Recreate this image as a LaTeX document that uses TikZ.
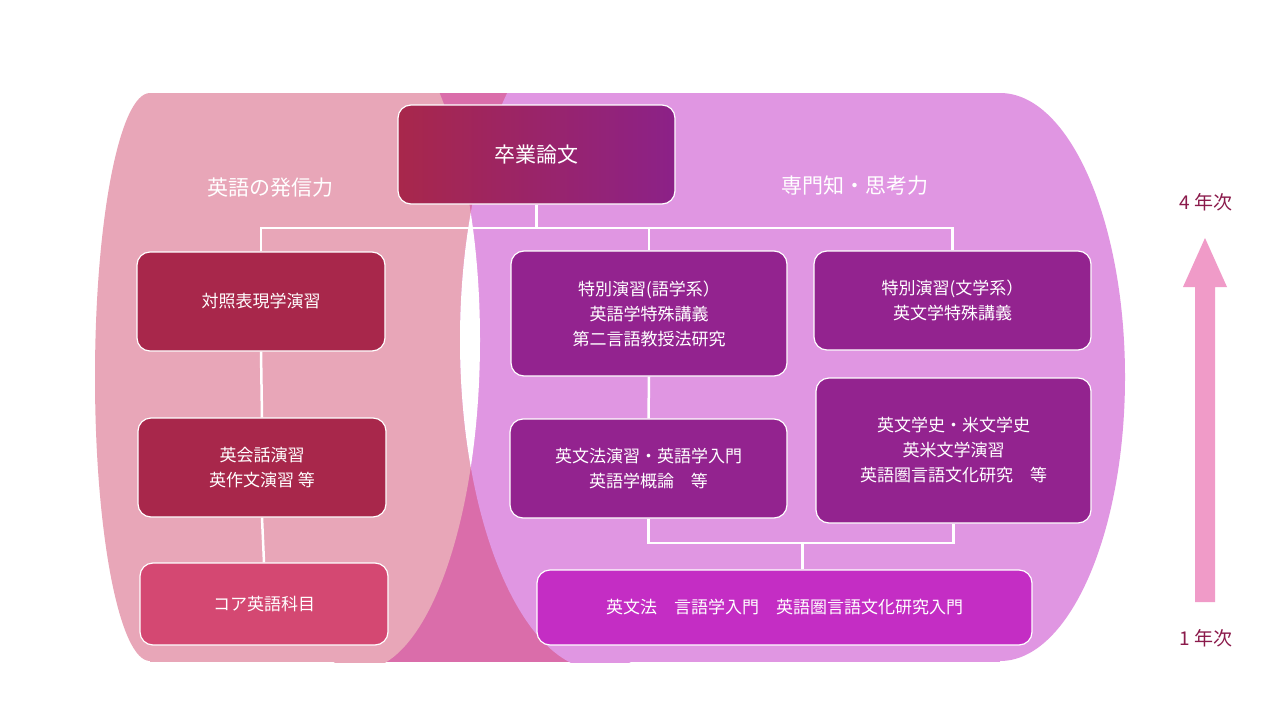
\documentclass[tikz,border=0pt]{standalone}
\usepackage{fontspec}
\setmainfont{Noto Sans CJK JP}
\begin{document}
\begin{tikzpicture}[x=1pt,y=-1pt,
  box/.style={draw=white,line width=1.2pt,rounded corners=13pt,text=white,align=center,font=\fontsize{17}{25}\selectfont,inner sep=0pt},
  conn/.style={draw=white,line width=2.5pt}]
\definecolor{lpink}{HTML}{E8A6B8}
\definecolor{rpurp}{HTML}{E096E2}
\definecolor{back}{HTML}{DA6DAA}
\definecolor{lbox}{HTML}{A8274B}
\definecolor{cbox}{HTML}{D44872}
\definecolor{mbox}{HTML}{93238F}
\definecolor{bbox}{HTML}{C42DC4}
\definecolor{yr}{HTML}{8B1A4B}
\definecolor{arr}{HTML}{F09BC8}
\useasboundingbox (0,0) rectangle (1280,720);
\fill[white] (0,0) rectangle (1280,720);
% backdrop
\fill[back] (150,93) rectangle (1000,662);
\begin{scope}
\clip (0,93) rectangle (1280,662);
% left shape
\fill[lpink] (150,377) ellipse [x radius=55pt, y radius=284pt];
\fill[lpink] (150,93) rectangle (360,662);
\fill[lpink] (360,340) ellipse [x radius=120pt, y radius=330pt];
% right shape
\fill[rpurp] (600,340) ellipse [x radius=140pt, y radius=330pt];
\fill[rpurp] (600,93) rectangle (1000,662);
\fill[rpurp] (1000,377) ellipse [x radius=125pt, y radius=284pt];
% overlap lens
\begin{scope}
\clip (360,340) ellipse [x radius=120pt, y radius=330pt];
\fill[white] (600,340) ellipse [x radius=140pt, y radius=330pt];
\end{scope}
\end{scope}
% labels
\node[text=white,font=\fontsize{21}{25}\selectfont] (lab1) at (270,188) {英語の発信力};
\node[text=white,font=\fontsize{21}{25}\selectfont] (lab2) at (855,186) {専門知・思考力};
% boxes
\node[box,left color=lbox,right color=mbox!95!black,minimum width=277pt,minimum height=99pt,font=\fontsize{21}{25}\selectfont] (thesis) at (536.5,154.5) {卒業論文};
\node[box,fill=lbox,minimum width=248pt,minimum height=99pt] (L1) at (261,301.5) {対照表現学演習};
\node[box,fill=lbox,minimum width=248pt,minimum height=99pt] (L2) at (262,467.5) {英会話演習\\英作文演習 等};
\node[box,fill=cbox,minimum width=248pt,minimum height=82pt] (L3) at (264,604) {コア英語科目};
\node[box,fill=mbox,minimum width=276pt,minimum height=125pt] (M1) at (649,313.5) {特別演習(語学系）\\英語学特殊講義\\第二言語教授法研究};
\node[box,fill=mbox,minimum width=277pt,minimum height=99pt] (R1) at (952.5,300.5) {特別演習(文学系）\\英文学特殊講義};
\node[box,fill=mbox,minimum width=277pt,minimum height=99pt] (M2) at (648.5,468.5) {英文法演習・英語学入門\\英語学概論\quad 等};
\node[box,fill=mbox,minimum width=275pt,minimum height=145pt] (R2) at (953.5,450.5) {英文学史・米文学史\\英米文学演習\\英語圏言語文化研究\quad 等};
\node[box,fill=bbox,minimum width=495pt,minimum height=75pt] (B) at (784.5,607.5) {英文法\quad 言語学入門\quad 英語圏言語文化研究入門};
% connectors
\coordinate (bar) at (0,228);
\coordinate (bb) at (0,543);
\draw[conn] (L1.north) -- (L1.north |- bar) -- (R1.north |- bar) -- (R1.north);
\draw[conn] (thesis.south) -- (thesis.south |- bar);
\draw[conn] (M1.north) -- (M1.north |- bar);
\draw[conn] (L1.south) -- (L2.north);
\draw[conn] (L2.south) -- (L3.north);
\draw[conn] (M1.south) -- (M2.north);
\draw[conn] (M2.south) -- (M2.south |- bb) -- (R2.south |- bb) -- (R2.south);
\coordinate (bt) at ([xshift=18pt]B.north);
\draw[conn] (bt) -- (bt |- bb);
% year arrow
\node[text=yr,font=\fontsize{19}{22}\selectfont] (y4) at (1206,202) {4 年次};
\node[text=yr,font=\fontsize{19}{22}\selectfont] (y1) at (1206,638) {1 年次};
\fill[arr] (1195,602) -- (1195,287) -- (1183,287) -- (1205,238) -- (1227,287) -- (1215,287) -- (1215,602) -- cycle;
\end{tikzpicture}
\end{document}
